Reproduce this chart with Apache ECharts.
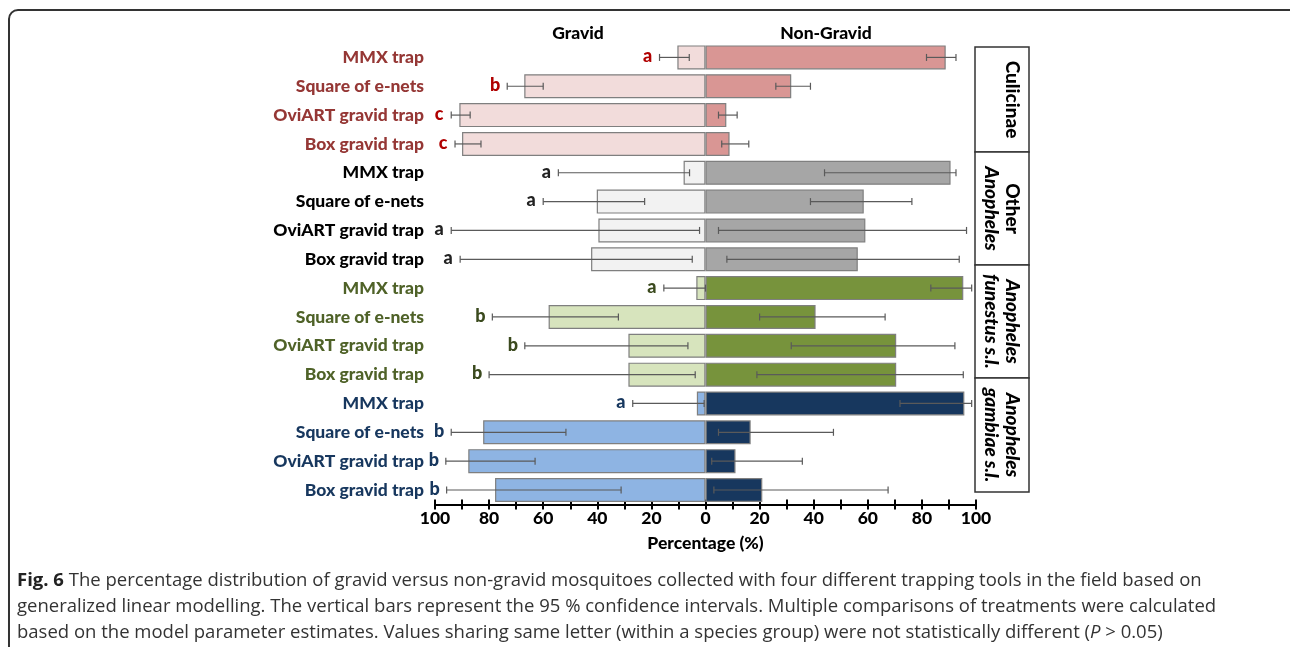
<!DOCTYPE html>
<html>
<head>
<meta charset="utf-8">
<script src="https://cdn.jsdelivr.net/npm/echarts@6/dist/echarts.min.js"></script>
<style>
html,body{margin:0;padding:0;background:#fff;}
#chart{width:1290px;height:647px;}
</style>
</head>
<body>
<div id="chart"></div>
<script>
// ---- data ----
var traps = ['MMX trap', 'Square of e-nets', 'OviART gravid trap', 'Box gravid trap'];
var groups = ['Culicinae', 'Other Anopheles', 'Anopheles funestus s.l.', 'Anopheles gambiae s.l.'];
var categories = [].concat(traps, traps, traps, traps);
var gravid = [10.4, 67, 91, 90, 8.1, 40.2, 39.6, 42.3, 3.4, 58, 28.5, 28.5, 3.2, 82.2, 87.7, 77.8];
var nonGravid = [88.8, 31.7, 7.7, 8.9, 90.6, 58.5, 59.1, 56.3, 95.3, 40.7, 70.5, 70.5, 95.7, 16.7, 11.1, 21];
var gravidLow = [6, 60, 87, 83, 5.9, 22.5, 2.2, 4.9, 0, 32.2, 6.5, 3.8, 0.5, 51.6, 63, 31.2];
var gravidHigh = [17, 73.3, 94, 92.6, 54.4, 60, 94, 90.7, 15.4, 78.8, 66.8, 80, 26.9, 94, 96, 95.7];
var nonGravidLow = [81.7, 26, 4.8, 6, 44, 38.8, 4.8, 7.9, 83.3, 20, 31.7, 19, 71.9, 4.8, 2.3, 3.1];
var nonGravidHigh = [92.6, 38.8, 11.7, 16, 92.6, 76.3, 96.5, 93.8, 98.4, 66.4, 92.2, 95.3, 98.4, 47.3, 35.8, 67.5];
var letters = ['a', 'b', 'c', 'c', 'a', 'a', 'a', 'a', 'a', 'b', 'b', 'b', 'a', 'b', 'b', 'b'];
var xTicks = [-100, -80, -60, -40, -20, 0, 20, 40, 60, 80, 100];

// ---- styles ----
var gravidColors = ['#f2dcdb', '#f2f2f2', '#d7e4bd', '#8eb4e3'];
var nonGravidColors = ['#d99694', '#a6a6a6', '#77933c', '#17375e'];
var labelColors = ['#953735', '#000000', '#4f6228', '#17375e'];
var letterColors = ['#b00000', '#222222', '#3b4a1e', '#17375e'];
var FONT = 'Lato, "DejaVu Sans Condensed", sans-serif';

var chart = echarts.init(document.getElementById('chart'));

function g(i) { return Math.floor(i / 4); }

var gravidData = gravid.map(function (v, i) {
  return { value: -v, itemStyle: { color: gravidColors[g(i)] } };
});
var nonGravidData = nonGravid.map(function (v, i) {
  return { value: v, itemStyle: { color: nonGravidColors[g(i)] } };
});
var gravidErr = gravidLow.map(function (lo, i) { return [i, -gravidHigh[i], -lo]; });
var nonGravidErr = nonGravidLow.map(function (lo, i) { return [i, lo, nonGravidHigh[i]]; });

function errRender(withLetter) {
  return function (params, api) {
    var idx = api.value(0);
    var p1 = api.coord([api.value(1), idx]);
    var p2 = api.coord([api.value(2), idx]);
    var h = 3.5;
    var st = { stroke: '#5a5a5a', lineWidth: 1.2 };
    var children = [
      { type: 'line', shape: { x1: p1[0], y1: p1[1], x2: p2[0], y2: p2[1] }, style: st },
      { type: 'line', shape: { x1: p1[0], y1: p1[1] - h, x2: p1[0], y2: p1[1] + h }, style: st },
      { type: 'line', shape: { x1: p2[0], y1: p2[1] - h, x2: p2[0], y2: p2[1] + h }, style: st }
    ];
    if (withLetter) {
      var di = params.dataIndex;
      children.push({
        type: 'text',
        style: {
          text: letters[di], x: p1[0] - 12, y: p1[1] - 1,
          align: 'center', verticalAlign: 'middle',
          fill: letterColors[g(di)],
          font: '900 18px ' + FONT
        }
      });
    }
    return { type: 'group', children: children };
  };
}

var graphics = [];
// outer frame
graphics.push({
  type: 'rect', shape: { x: 9, y: 10, width: 1300, height: 660, r: 9 },
  style: { fill: 'none', stroke: '#333', lineWidth: 2 }, silent: true
});
// headers
graphics.push({ type: 'text', x: 578, y: 33, style: { text: 'Gravid', align: 'center', verticalAlign: 'middle', font: '900 17.5px ' + FONT, fill: '#000' } });
graphics.push({ type: 'text', x: 826, y: 33, style: { text: 'Non-Gravid', align: 'center', verticalAlign: 'middle', font: '900 17.5px ' + FONT, fill: '#000' } });
// group boxes
var boxY = [47, 152, 265, 378, 492];
var groupRich = [
  '{b|Culicinae}',
  '{b|Other}\n{bi|Anopheles}',
  '{bi|Anopheles}\n{bi|funestus s.l.}',
  '{bi|Anopheles}\n{bi|gambiae s.l.}'
];
var groupX = [1012, 1002, 1002, 1002];
for (var k = 0; k < 4; k++) {
  graphics.push({
    type: 'rect', shape: { x: 975, y: boxY[k], width: 54, height: boxY[k + 1] - boxY[k] },
    style: { fill: '#fff', stroke: '#333', lineWidth: 1.5 }
  });
  graphics.push({
    type: 'text', x: groupX[k], y: (boxY[k] + boxY[k + 1]) / 2, rotation: -Math.PI / 2,
    style: {
      text: groupRich[k], align: 'center', verticalAlign: 'middle',
      rich: {
        b: { fontFamily: FONT, fontWeight: 900, fontSize: 19, lineHeight: 21, fill: '#000', align: 'center' },
        bi: { fontFamily: FONT, fontWeight: 900, fontStyle: 'italic', fontSize: 19, lineHeight: 21, fill: '#000', align: 'center' }
      }
    }
  });
}
// caption
var CF = '"Open Sans", "Noto Sans", sans-serif';
graphics.push({
  type: 'text', x: 17, y: 568,
  style: {
    text: '{b|Fig. 6}{n| The percentage distribution of gravid versus non-gravid mosquitoes collected with four different trapping tools in the field based on}\n' +
      '{n|generalized linear modelling. The vertical bars represent the 95 % confidence intervals. Multiple comparisons of treatments were calculated}\n' +
      '{n|based on the model parameter estimates. Values sharing same letter (within a species group) were not statistically different (}{i|P}{n| > 0.05)}',
    align: 'left', verticalAlign: 'top',
    rich: {
      b: { fontFamily: CF, fontWeight: 'bold', fontSize: 18.5, lineHeight: 26, fill: '#222' },
      n: { fontFamily: CF, fontSize: 18.5, lineHeight: 26, fill: '#333' },
      i: { fontFamily: CF, fontStyle: 'italic', fontSize: 18.5, lineHeight: 26, fill: '#333' }
    }
  }
});

var option = {
  animation: false,
  backgroundColor: '#fff',
  grid: { left: 435, right: 314, top: 43, bottom: 142.6, containLabel: false },
  xAxis: [{
    type: 'value', min: -100, max: 100, interval: 10, position: 'bottom',
    axisLine: { show: true, lineStyle: { color: '#000', width: 2 } },
    axisTick: { show: true, length: 5, lineStyle: { color: '#000', width: 2 } },
    splitLine: { show: false },
    axisLabel: {
      margin: 5, color: '#000', fontFamily: FONT, fontWeight: 900, fontSize: 17.5,
      formatter: function (v) { return xTicks.indexOf(v) >= 0 ? String(Math.abs(v)) : ''; }
    },
    name: 'Percentage (%)', nameLocation: 'middle', nameGap: 30,
    nameTextStyle: { color: '#000', fontFamily: FONT, fontWeight: 900, fontSize: 17.5 }
  }, {
    type: 'value', min: -100, max: 100, interval: 10, position: 'bottom',
    axisLine: { show: false },
    axisTick: { show: true, inside: true, length: 5, lineStyle: { color: '#000', width: 2 } },
    splitLine: { show: false },
    axisLabel: { show: false }
  }],
  yAxis: {
    type: 'category', data: categories, inverse: true,
    axisLine: { show: false }, axisTick: { show: false }, splitLine: { show: false },
    axisLabel: {
      margin: 11, fontFamily: FONT, fontWeight: 900, fontSize: 17.5,
      color: function (v, i) { return labelColors[g(i)]; }
    }
  },
  series: [
    {
      name: 'Gravid', type: 'bar', data: gravidData, barWidth: 24, barGap: '-100%',
      itemStyle: { borderColor: '#7f7f7f', borderWidth: 1.2 }, z: 2
    },
    {
      name: 'Non-Gravid', type: 'bar', data: nonGravidData, barWidth: 24, barGap: '-100%',
      itemStyle: { borderColor: '#7f7f7f', borderWidth: 1.2 }, z: 2
    },
    {
      type: 'custom', data: gravidErr, renderItem: errRender(true),
      encode: { x: [1, 2], y: 0 }, z: 5
    },
    {
      type: 'custom', data: nonGravidErr, renderItem: errRender(false),
      encode: { x: [1, 2], y: 0 }, z: 5
    }
  ],
  graphic: graphics
};
chart.setOption(option);
</script>
</body>
</html>
